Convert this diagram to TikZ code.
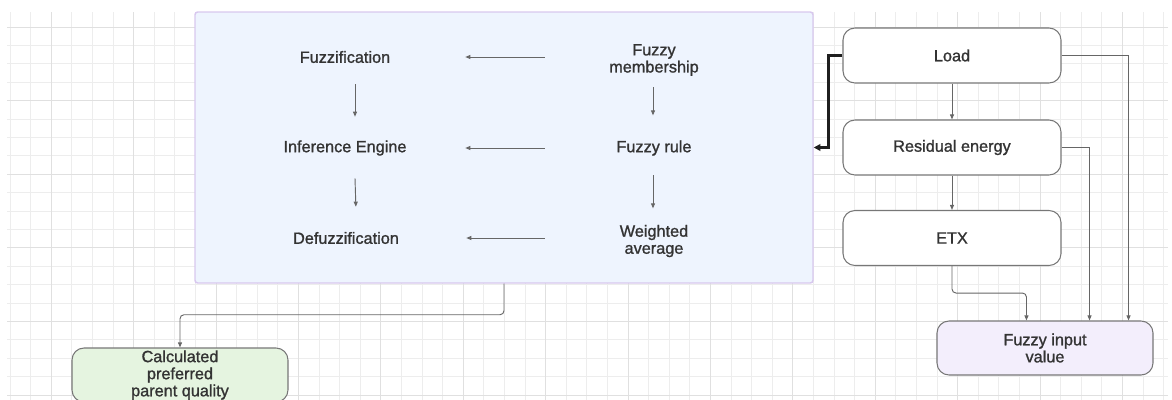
\documentclass[tikz,border=0pt]{standalone}
\usepackage{fontspec}
\setmainfont{Liberation Sans}[FakeBold=1.2]
\usetikzlibrary{arrows.meta,calc}
\definecolor{gridminor}{HTML}{EDEDED}
\definecolor{gridmajor}{HTML}{E0E0E0}
\definecolor{enginefill}{HTML}{EEF4FE}
\definecolor{engineline}{HTML}{D8C8EE}
\definecolor{txtcol}{HTML}{333333}
\definecolor{conncol}{HTML}{666666}
\definecolor{boxline}{HTML}{777777}
\definecolor{inputfill}{HTML}{F3EEFC}
\definecolor{outfill}{HTML}{E5F4E0}
\begin{document}
\begin{tikzpicture}[x=0.75pt,y=-0.75pt,
  lbl/.style={font=\fontsize{12.2}{12.8}\selectfont, text=txtcol, align=center, inner sep=0pt, minimum height=40.5pt},
  lcol/.style={lbl, minimum width=180pt},
  rcol/.style={lbl, minimum width=163.5pt},
  rbox/.style={draw=boxline, line width=0.8pt, rounded corners=9pt, minimum width=163.5pt, minimum height=41.25pt, align=center, font=\fontsize{12.2}{12.8}\selectfont, text=txtcol, inner sep=0pt},
  conn/.style={draw=conncol, line width=0.7pt, -{Triangle[length=3.8pt,width=3pt]}},
  thickarrow/.style={draw=black!88, line width=1.6pt, -{Triangle[length=5pt,width=5pt]}},
  minorline/.style={draw=gridminor, line width=0.6pt},
  majorline/.style={draw=gridmajor, line width=0.7pt},
]
\useasboundingbox (0,0) rectangle (1172,400);
\clip (0,0) rectangle (1172,400);
% grid
\foreach \i in {0,...,56} \draw[minorline] ({10+20.6*\i},12) -- ({10+20.6*\i},400);
\foreach \j in {0,...,20} \draw[minorline] (7,{27+18.4*\j}) -- (1168,{27+18.4*\j});
\foreach \i in {2,6,...,54} \draw[majorline] ({10+20.6*\i},12) -- ({10+20.6*\i},400);
\foreach \j in {0,4,...,20} \draw[majorline] (7,{27+18.4*\j}) -- (1168,{27+18.4*\j});

% engine box
\node[draw=engineline, fill=enginefill, line width=1.1pt, rounded corners=2pt, minimum width=463.5pt, minimum height=203.25pt, inner sep=0pt] (engine) at (504,147.5) {};

\node[lcol] (fz) at (345,57) {Fuzzification};
\node[lcol] (ie) at (345,148) {Inference Engine};
\node[lcol] (dz) at (346,238) {Defuzzification};
\node[rcol] (fm) at (654,60) {Fuzzy\\membership};
\node[rcol] (fr) at (654,148) {Fuzzy rule};
\node[rcol] (wa) at (654,241) {Weighted\\average};

\draw[conn] (fm.west |- fz.east) -- (fz.east);
\draw[conn] (fr.west) -- (ie.east);
\draw[conn] (wa.west |- dz.east) -- (dz.east);
\draw[conn, shorten >=3pt] ($(fz.south)+(10,0)$) -- ($(ie.north)+(10,0)$);
\draw[conn, shorten >=3pt] ($(ie.south)+(10,3)$) -- ($(dz.north)+(10,0)$);
\draw[conn, shorten >=4pt] ($(fm.south)+(-1,0)$) -- ($(fr.north)+(-1,0)$);
\draw[conn, shorten >=4pt] ($(fr.south)+(-1,0)$) -- ($(wa.north)+(-1,0)$);

% right boxes
\node[rbox, fill=white] (load) at (952,55.5) {Load};
\node[rbox, fill=white] (res) at (952,147.5) {Residual energy};
\node[rbox, fill=white] (etx) at (952,238) {ETX};
\node[rbox, fill=inputfill, minimum width=162pt, minimum height=40.5pt] (fin) at (1045,348) {Fuzzy input\\value};
\node[rbox, fill=outfill, minimum width=162pt, minimum height=40.5pt] (cpq) at (180,375) {Calculated\\preferred\\parent quality};

\draw[conn] (load) -- (res);
\draw[conn] (res) -- (etx);
\draw[thickarrow] (load.west) -- ++(-14,0) |- (engine.east);
\draw[conn] (load.east) -| ($(fin.north east)+(-25,0)$);
\draw[conn] (res.east) -| ($(fin.north east)+(-64,0)$);
\draw[conn, rounded corners=3pt] (etx.south) -- ++(0,27) -| ($(fin.north west)+(90,0)$);
\draw[conn, rounded corners=3pt] (engine.south) -- ++(0,31) -| (cpq.north);
\end{tikzpicture}
\end{document}
